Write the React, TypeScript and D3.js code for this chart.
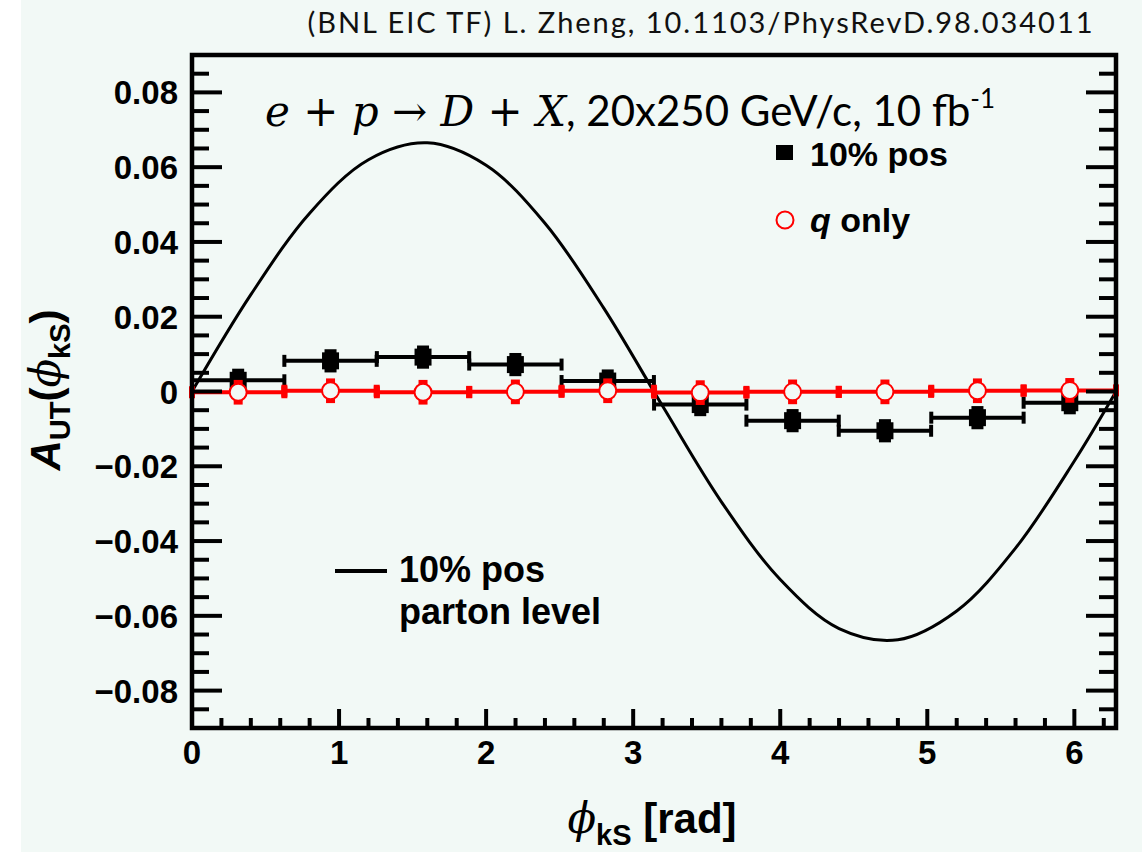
import React from 'react'
import * as d3 from 'd3'

// binned asymmetry, 10 bins in phi_kS
const binCenters = [0.314, 0.942, 1.571, 2.199, 2.827, 3.456, 4.084, 4.712, 5.341, 5.969]
const binHalfWidths = [0.314, 0.314, 0.314, 0.314, 0.314, 0.314, 0.314, 0.314, 0.314, 0.314]
const pos10 = [0.003, 0.0082, 0.0092, 0.0072, 0.0028, -0.0035, -0.0078, -0.0105, -0.007, -0.003]
const pos10Err = [0.0031, 0.0031, 0.0031, 0.0031, 0.0031, 0.0031, 0.0031, 0.0031, 0.0031, 0.0031]
const qOnly = [-0.0002, 0.0002, -0.0002, -0.0001, 0.0002, -0.0003, -0.0001, -0.0001, 0.0002, 0.0003]
const qOnlyErr = [0.0033, 0.0033, 0.0033, 0.0033, 0.0033, 0.0033, 0.0033, 0.0033, 0.0033, 0.0033]

// parton level curve
const partonPhi = [0, 0.4, 0.8, 1.2, 1.6, 2.0, 2.4, 2.8, 3.2, 3.6, 4.0, 4.4, 4.8, 5.2, 5.6, 6.0, 6.283]
const partonA = [0, 0.0259, 0.0477, 0.062, 0.0665, 0.0605, 0.045, 0.0223, -0.0039, -0.0295, -0.0503, -0.0634, -0.0664, -0.0587, -0.0419, -0.0186, 0]

const yMajor = [-0.08, -0.06, -0.04, -0.02, 0, 0.02, 0.04, 0.06, 0.08]
const yLabels = ['\u22120.08', '\u22120.06', '\u22120.04', '\u22120.02', '0', '0.02', '0.04', '0.06', '0.08']
const xMajor = [0, 1, 2, 3, 4, 5, 6]
const xLabels = ['0', '1', '2', '3', '4', '5', '6']

const W = 1142
const H = 852
const BG = '#f2f9f6'
const left = 192
const right = 1116
const top = 55
const bottom = 728
const SANS = '"Liberation Sans", Arial, sans-serif'
const SERIF = '"DejaVu Serif", "Liberation Serif", serif'
const TITLEFONT = 'Lato, "Open Sans", sans-serif'

export default function App() {
  const x = d3.scaleLinear().domain([0, 2 * Math.PI]).range([left, right])
  const y = d3.scaleLinear().domain([-0.09, 0.09]).range([bottom, top])

  const yMinor = d3.range(-0.09, 0.0901, 0.005).filter(v => Math.abs(Math.round(v / 0.005) % 4) !== 0)
  const xMinor = d3.range(0.2, 6.25, 0.2).filter(v => Math.abs(v - Math.round(v)) > 0.01)

  const curve = d3
    .line<number>()
    .x((d, i) => x(partonPhi[i]))
    .y(d => y(d))
    .curve(d3.curveCatmullRom)(partonA)

  const cap = 12

  return (
    <div style={{position: 'absolute', left: 0, top: 0}}>
      <svg width={W} height={H} style={{display: 'block'}}>
        <rect x={0} y={0} width={W} height={H} fill="#ffffff" />
        <rect x={21} y={0} width={W - 21} height={H} fill={BG} />

        {/* header */}
        <text x={700} y={33} fontFamily={TITLEFONT} fontSize={29} textAnchor="middle" textLength={785} fill="#111">
          (BNL EIC TF) L. Zheng, 10.1103/PhysRevD.98.034011
        </text>

        {/* curve */}
        <path d={curve || ''} fill="none" stroke="#000" strokeWidth={3} />

        {/* 10% pos points */}
        <g>
          {binCenters.map((c, i) => {
            const cy = y(pos10[i])
            const x0 = x(c - binHalfWidths[i])
            const x1 = x(c + binHalfWidths[i])
            return (
              <g key={'p' + i}>
                <line x1={x0} x2={x1} y1={cy} y2={cy} stroke="#000" strokeWidth={4} />
                <line x1={x0} x2={x0} y1={cy - cap / 2} y2={cy + cap / 2} stroke="#000" strokeWidth={4} />
                <line x1={x1} x2={x1} y1={cy - cap / 2} y2={cy + cap / 2} stroke="#000" strokeWidth={4} />
                <rect x={x(c) - 6} y={y(pos10[i] + pos10Err[i])} width={12} height={y(pos10[i] - pos10Err[i]) - y(pos10[i] + pos10Err[i])} fill="#000" />
                <rect x={x(c) - 8.5} y={cy - 8.5} width={17} height={17} fill="#000" />
              </g>
            )
          })}
        </g>

        {/* q only points */}
        <g>
          {binCenters.map((c, i) => {
            const cy = y(qOnly[i])
            const x0 = x(c - binHalfWidths[i])
            const x1 = x(c + binHalfWidths[i])
            return (
              <g key={'q' + i}>
                <line x1={x0} x2={x1} y1={cy} y2={cy} stroke="#ff0000" strokeWidth={4} />
                <rect x={x0 - 3} y={cy - 6} width={6} height={12} fill="#ff0000" />
                <rect x={x1 - 3} y={cy - 6} width={6} height={12} fill="#ff0000" />
                <rect x={x(c) - 4.5} y={y(qOnly[i] + qOnlyErr[i])} width={9} height={y(qOnly[i] - qOnlyErr[i]) - y(qOnly[i] + qOnlyErr[i])} fill="#ff0000" />
                <circle cx={x(c)} cy={cy} r={8.5} fill={BG} stroke="#ff0000" strokeWidth={2} />
              </g>
            )
          })}
        </g>

        {/* frame and ticks */}
        <g stroke="#000" strokeWidth={4}>
          {yMajor.map(v => (
            <g key={'ym' + v}>
              <line x1={left} x2={left + 30} y1={y(v)} y2={y(v)} />
              <line x1={right} x2={right - 30} y1={y(v)} y2={y(v)} />
            </g>
          ))}
          {yMinor.map(v => (
            <g key={'yn' + v}>
              <line x1={left} x2={left + 17} y1={y(v)} y2={y(v)} />
              <line x1={right} x2={right - 17} y1={y(v)} y2={y(v)} />
            </g>
          ))}
          {xMajor.map(v => (
            <line key={'xm' + v} x1={x(v)} x2={x(v)} y1={bottom} y2={bottom - 19} />
          ))}
          {xMinor.map(v => (
            <line key={'xn' + v} x1={x(v)} x2={x(v)} y1={bottom} y2={bottom - 10} />
          ))}
          <rect x={left} y={top} width={right - left} height={bottom - top} fill="none" strokeWidth={4.5} />
        </g>

        {/* tick labels */}
        <g fontFamily={SANS} fontWeight="bold" fontSize={33} fill="#000">
          {yMajor.map((v, i) => (
            <text key={'yl' + v} x={178} y={y(v) + 12} textAnchor="end">
              {yLabels[i]}
            </text>
          ))}
          {xMajor.map((v, i) => (
            <text key={'xl' + v} x={x(v)} y={764} textAnchor="middle">
              {xLabels[i]}
            </text>
          ))}
        </g>

        {/* formula */}
        <text x={265} y={126} fontSize={42} fill="#000">
          <tspan fontFamily={SERIF} fontStyle="italic">e</tspan>
          <tspan fontFamily={SERIF}> + </tspan>
          <tspan fontFamily={SERIF} fontStyle="italic">p</tspan>
          <tspan fontFamily={SERIF}> {'\u2192'} </tspan>
          <tspan fontFamily={SERIF} fontStyle="italic">D</tspan>
          <tspan fontFamily={SERIF}> + </tspan>
          <tspan fontFamily={SERIF} fontStyle="italic">X</tspan>
          <tspan fontFamily={TITLEFONT}>, 20x250 GeV/c, 10 fb</tspan>
          <tspan fontFamily={TITLEFONT} fontSize={26} dy={-18}>-1</tspan>
        </text>

        {/* legend top right */}
        <rect x={776} y={145} width={17} height={15} fill="#000" />
        <text x={810} y={166} fontFamily={SANS} fontWeight="bold" fontSize={34}>10% pos</text>
        <circle cx={785} cy={220} r={8.5} fill={BG} stroke="#ff0000" strokeWidth={2} />
        <text x={810} y={232} fontFamily={SANS} fontWeight="bold" fontSize={34}>
          <tspan fontStyle="italic">q</tspan> only
        </text>

        {/* legend bottom left */}
        <line x1={335} x2={387} y1={571} y2={571} stroke="#000" strokeWidth={4} />
        <text x={399} y={582} fontFamily={SANS} fontWeight="bold" fontSize={36}>10% pos</text>
        <text x={399} y={624} fontFamily={SANS} fontWeight="bold" fontSize={36}>parton level</text>

        {/* axis titles */}
        <text x={652} y={833} textAnchor="middle" fontFamily={SANS} fontWeight="bold" fontSize={42}>
          <tspan fontFamily={SERIF} fontStyle="italic" fontWeight="normal">{'\u03d5'}</tspan>
          <tspan fontSize={29} dy={12}>kS</tspan>
          <tspan dy={-12}> [rad]</tspan>
        </text>
        <text transform="translate(60,390) rotate(-90)" textAnchor="middle" fontFamily={SANS} fontWeight="bold" fontSize={42}>
          <tspan fontStyle="italic">A</tspan>
          <tspan fontSize={29} dy={10}>UT</tspan>
          <tspan dy={-10}>(</tspan>
          <tspan fontFamily={SERIF} fontStyle="italic" fontWeight="normal">{'\u03d5'}</tspan>
          <tspan fontSize={29} dy={10}>kS</tspan>
          <tspan dy={-10}>)</tspan>
        </text>
      </svg>
    </div>
  )
}
